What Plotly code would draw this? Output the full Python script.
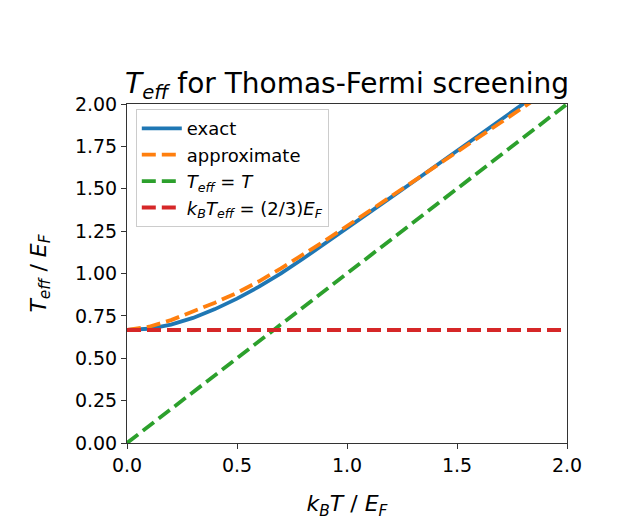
import plotly.graph_objects as go

# values (k_B T / E_F  ->  T_eff / E_F)
t_exact = [0.0, 0.1, 0.2, 0.3, 0.4, 0.5, 0.6, 0.7, 0.8, 0.9, 1.0,
           1.1, 1.2, 1.3, 1.4, 1.5, 1.6, 1.7, 1.8, 1.9, 2.0]
teff_exact = [0.667, 0.674, 0.698, 0.738, 0.790, 0.852, 0.922, 1.001, 1.087, 1.176, 1.266,
              1.357, 1.449, 1.540, 1.632, 1.724, 1.816, 1.908, 2.000, 2.092, 2.184]

t_approx = [0.0, 0.1, 0.2, 0.3, 0.4, 0.5, 0.6, 0.7, 0.8, 0.9, 1.0,
            1.1, 1.2, 1.3, 1.4, 1.5, 1.6, 1.7, 1.8, 1.9, 2.0]
teff_approx = [0.667, 0.686, 0.725, 0.776, 0.828, 0.886, 0.954, 1.030, 1.110, 1.194, 1.280,
               1.367, 1.455, 1.542, 1.629, 1.716, 1.803, 1.890, 1.978, 2.066, 2.154]

t_line = [0.0, 2.0]
teff_classical = [0.0, 2.0]
teff_degenerate = [2 / 3, 2 / 3]

x_ticks = [0.0, 0.5, 1.0, 1.5, 2.0]
y_ticks = [0.0, 0.25, 0.5, 0.75, 1.0, 1.25, 1.5, 1.75, 2.0]

font = "DejaVu Sans"
dash = "14px,6px"
lw = 3.8

fig = go.Figure()
fig.add_trace(go.Scatter(x=t_exact, y=teff_exact, mode="lines", name="exact",
                         line=dict(color="#1f77b4", width=lw)))
fig.add_trace(go.Scatter(x=t_approx, y=teff_approx, mode="lines", name="approximate",
                         line=dict(color="#ff7f0e", width=lw, dash=dash)))
fig.add_trace(go.Scatter(x=t_line, y=teff_classical, mode="lines",
                         name="<i>T</i><sub><i>eff</i></sub> = <i>T</i>",
                         line=dict(color="#2ca02c", width=lw, dash=dash)))
fig.add_trace(go.Scatter(x=t_line, y=teff_degenerate, mode="lines",
                         name="<i>k</i><sub><i>B</i></sub><i>T</i><sub><i>eff</i></sub> = (2/3)<i>E</i><sub><i>F</i></sub>",
                         line=dict(color="#d62728", width=lw, dash=dash)))

axis = dict(showgrid=False, zeroline=False, showline=True, mirror=True, automargin=False,
            linecolor="#333333", linewidth=1, ticks="outside", ticklen=5,
            tickcolor="#333333", tickfont=dict(family=font, size=19, color="black"))

# page body has an 8px margin, so the figure is 8px smaller on each axis
W, H = 622, 512
fig.update_layout(
    width=W, height=H,
    paper_bgcolor="white", plot_bgcolor="white",
    margin=dict(l=119, r=63, t=96, b=77),
    font=dict(family=font, color="black"),
    title=dict(text="<i>T</i><sub><i>eff</i></sub> for Thomas-Fermi screening",
               x=(119 + 559) / 2 / W, xanchor="center", y=1 - 75 / H, yanchor="middle",
               font=dict(family=font, size=28)),
    xaxis=dict(axis, range=[0, 2], tickvals=x_ticks, tickformat=".1f",
               title=dict(text="<i>k</i><sub><i>B</i></sub><i>T</i> / <i>E</i><sub><i>F</i></sub>",
                          font=dict(family=font, size=22), standoff=26)),
    yaxis=dict(axis, range=[0, 2], tickvals=y_ticks, tickformat=".2f",
               title=dict(text="<i>T</i><sub><i>eff</i></sub> / <i>E</i><sub><i>F</i></sub>",
                          font=dict(family=font, size=22), standoff=22)),
    legend=dict(x=0.02, y=0.985, xanchor="left", yanchor="top", itemwidth=40,
                bgcolor="rgba(255,255,255,0.8)", bordercolor="#cccccc", borderwidth=1,
                font=dict(family=font, size=18), tracegroupgap=0),
    showlegend=True,
)

fig.write_html("out.html")
